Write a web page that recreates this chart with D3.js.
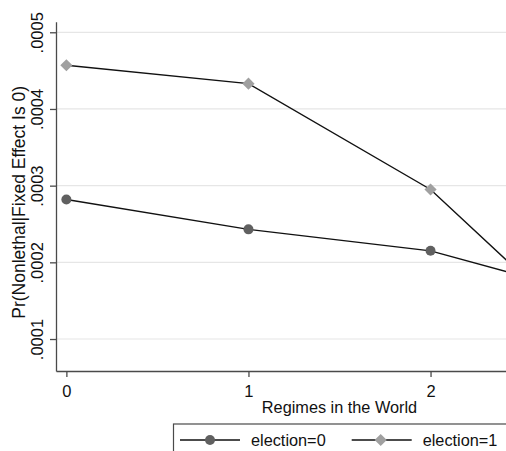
<!DOCTYPE html>
<html>
<head>
<meta charset="utf-8">
<script src="https://cdn.jsdelivr.net/npm/d3@7"></script>
<style>
  html, body { margin: 0; padding: 0; background: #fff; }
  svg { display: block; font-family: "Liberation Sans", Arial, sans-serif; }
</style>
</head>
<body>
<svg id="chart" width="506" height="451"></svg>
<script>
// Predicted probabilities by number of regimes in the world
const regimes = [0, 1, 2, 3];
const election0 = [0.000282, 0.000243, 0.000215, 0.000150];
const election1 = [0.000457, 0.000433, 0.000295, 0.000074];
const yTicks = [0.0001, 0.0002, 0.0003, 0.0004, 0.0005];
const yTickLabels = [".0001", ".0002", ".0003", ".0004", ".0005"];
const xTicks = [0, 1, 2];
const seriesNames = ["election=0", "election=1"];

const svg = d3.select("#chart");

const x = d3.scaleLinear().domain([-0.057, 3.057]).range([56, 623]);
const y = d3.scaleLinear().domain([0.0000583, 0.0005138]).range([371, 21.7]);

const axisColor = "#4a4a4a";
const gridColor = "#e6e6e6";
const textColor = "#111";

// horizontal grid
svg.append("g").selectAll("line").data(yTicks).join("line")
  .attr("x1", 56).attr("x2", 623)
  .attr("y1", d => y(d)).attr("y2", d => y(d))
  .attr("stroke", gridColor).attr("stroke-width", 1.2);

// y axis with rotated tick labels
const yAxis = d3.axisLeft(y).tickValues(yTicks)
  .tickFormat((d, i) => yTickLabels[i]).tickSize(6).tickSizeOuter(0);
const gy = svg.append("g").attr("transform", "translate(56,0)").call(yAxis);
gy.select(".domain").attr("stroke", axisColor).attr("stroke-width", 1.3);
gy.selectAll(".tick line").attr("stroke", axisColor).attr("stroke-width", 1.3);
gy.selectAll(".tick text")
  .attr("font-size", 16.5).attr("fill", textColor)
  .attr("font-family", "Liberation Sans, Arial, sans-serif")
  .attr("x", 0).attr("y", 0).attr("dy", 0)
  .attr("text-anchor", "middle")
  .attr("transform", "translate(-13.5,0) rotate(-90)");

// x axis
const xAxis = d3.axisBottom(x).tickValues(xTicks).tickFormat(d3.format("d"))
  .tickSize(6).tickSizeOuter(0);
const gx = svg.append("g").attr("transform", "translate(0,371)").call(xAxis);
gx.select(".domain").attr("stroke", axisColor).attr("stroke-width", 1.3);
gx.selectAll(".tick line").attr("stroke", axisColor).attr("stroke-width", 1.3);
gx.selectAll(".tick text")
  .attr("font-size", 16.5).attr("fill", textColor)
  .attr("font-family", "Liberation Sans, Arial, sans-serif")
  .attr("y", 26).attr("dy", 0);

// axis titles
svg.append("text")
  .attr("x", (56 + 623) / 2).attr("y", 413)
  .attr("text-anchor", "middle").attr("font-size", 16.3).attr("fill", textColor)
  .text("Regimes in the World");

svg.append("text")
  .attr("transform", `translate(25,${(21.7 + 371) / 2 + 6}) rotate(-90)`)
  .attr("text-anchor", "middle").attr("font-size", 17.5).attr("fill", textColor)
  .text("Pr(Nonlethal|Fixed Effect Is 0)");

// series
const line = d3.line().x((d, i) => x(regimes[i])).y(d => y(d));
const plot = svg.append("g");

[election0, election1].forEach(vals => {
  plot.append("path").datum(vals)
    .attr("d", line).attr("fill", "none")
    .attr("stroke", "#111").attr("stroke-width", 1.4);
});

const circleColor = "#606060";
const diamondColor = "#a0a0a0";
const diamond = d3.symbol().type(d3.symbolSquare).size(74);

plot.append("g").selectAll("circle").data(election0).join("circle")
  .attr("cx", (d, i) => x(regimes[i])).attr("cy", d => y(d))
  .attr("r", 5).attr("fill", circleColor);

plot.append("g").selectAll("path").data(election1).join("path")
  .attr("d", diamond)
  .attr("transform", (d, i) => `translate(${x(regimes[i])},${y(d)}) rotate(45)`)
  .attr("fill", diamondColor);

// legend
const lg = svg.append("g");
lg.append("rect")
  .attr("x", 173.5).attr("y", 424).attr("width", 420).attr("height", 60)
  .attr("fill", "#fff").attr("stroke", axisColor).attr("stroke-width", 1.2);

const legendItems = [
  { name: seriesNames[0], x0: 180, kind: "circle" },
  { name: seriesNames[1], x0: 351.7, kind: "diamond" }
];
legendItems.forEach(it => {
  lg.append("line").attr("x1", it.x0).attr("x2", it.x0 + 60)
    .attr("y1", 440).attr("y2", 440).attr("stroke", "#111").attr("stroke-width", 1.4);
  if (it.kind === "circle") {
    lg.append("circle").attr("cx", it.x0 + 30).attr("cy", 440).attr("r", 5).attr("fill", circleColor);
  } else {
    lg.append("path").attr("d", diamond)
      .attr("transform", `translate(${it.x0 + 29},440) rotate(45)`).attr("fill", diamondColor);
  }
  lg.append("text").attr("x", it.x0 + 71).attr("y", 446)
    .attr("font-size", 16.3).attr("fill", textColor).text(it.name);
});
</script>
</body>
</html>
